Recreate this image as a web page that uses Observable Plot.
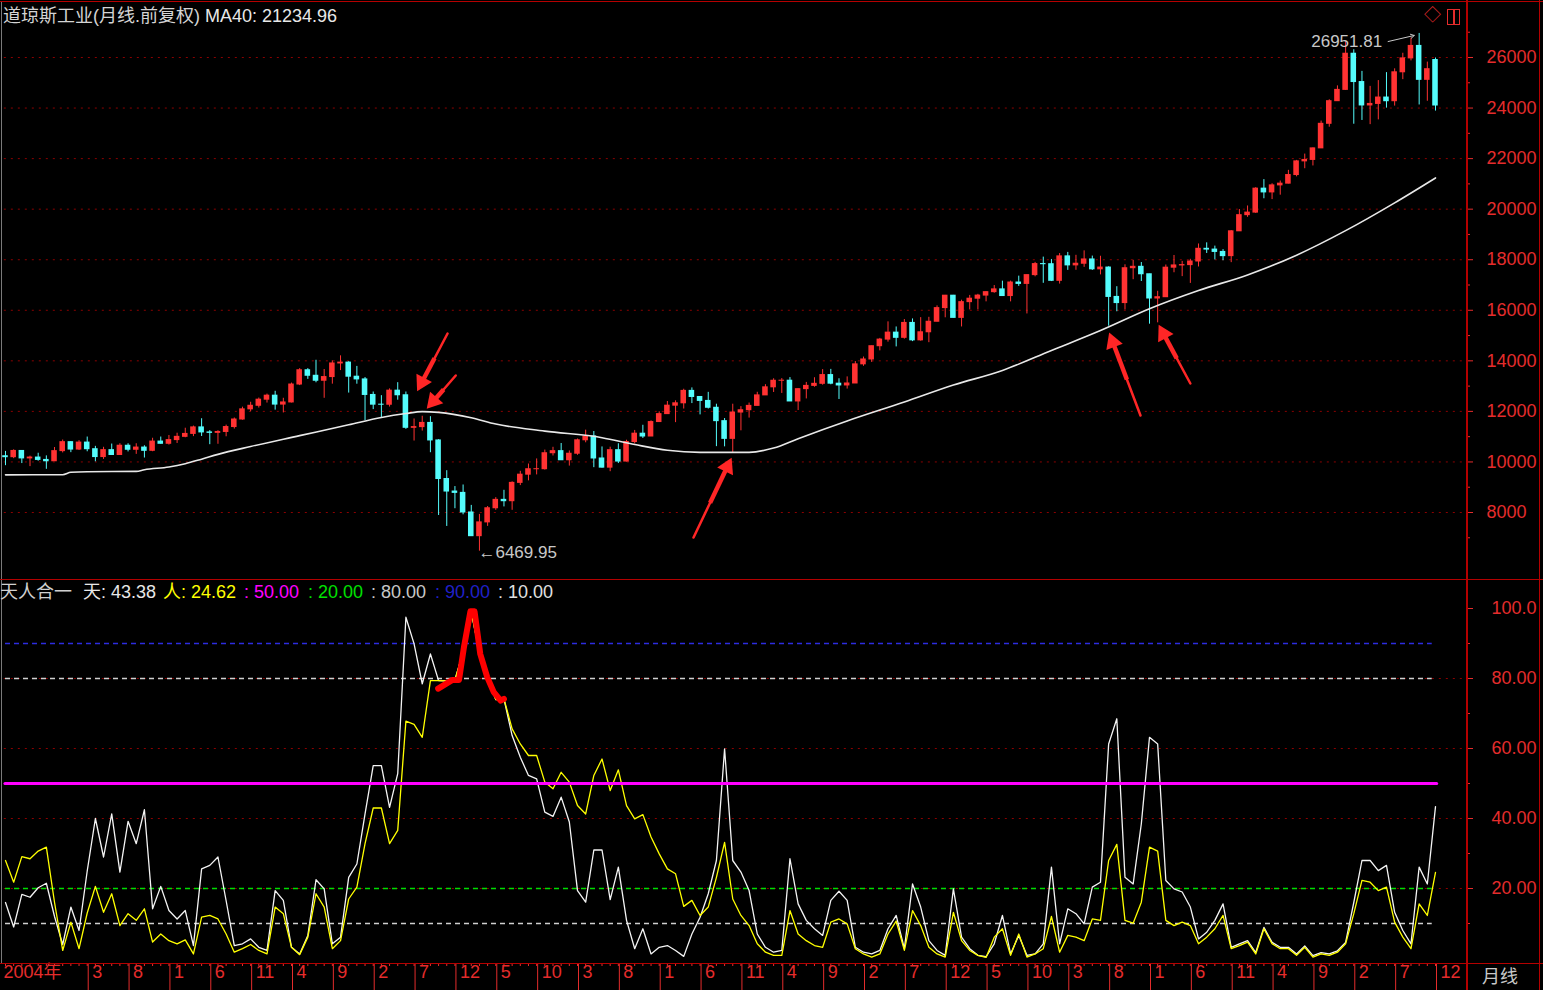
<!DOCTYPE html>
<html><head><meta charset="utf-8">
<script src="https://cdn.jsdelivr.net/npm/d3@7"></script>
<script src="https://cdn.jsdelivr.net/npm/@observablehq/plot@0.6"></script>
<style>
html,body{margin:0;padding:0;background:#000;}
#wrap{position:relative;width:1543px;height:990px;background:#000;overflow:hidden;font-family:"Liberation Sans","Noto Sans CJK SC",sans-serif;}
#wrap svg{position:absolute;left:0;}
.t{position:absolute;font-size:18px;line-height:18px;white-space:pre;}
.ln{position:absolute;background:#b40000;}
</style></head>
<body><div id="wrap"></div>
<script>
// ---------- data: Dow Jones monthly, 2004-05 .. 2018-12 ----------
const startLabel = "2004年";
const open = [10226,10188,10435,10140,10174,10080,10027,10428,
10783,10490,10766,10504,10193,10467,10275,10641,10482,10569,10440,10806,
10718,10865,10993,11109,11367,11168,11150,11186,11381,11679,12081,12222,
12463,12622,12269,12354,13063,13628,13409,13212,13358,13896,13930,13372,
13265,12650,12266,12263,12820,12638,11350,11378,11544,10851,9325,8829,
8776,8001,7063,7609,8168,8500,8447,9172,9496,9712,9713,10345,
10428,10067,10325,10857,11009,10137,9774,10466,10015,10788,11118,11006,
11578,11892,12226,12320,12811,12570,12414,12143,11614,10913,11955,12046,
12218,12633,12952,13212,13214,12393,12880,13009,13091,13437,13096,13026,
13104,13861,14054,14579,14840,15116,14910,15500,14810,15130,15546,16086,
16577,15699,16322,16458,16581,16717,16827,16563,17098,17043,17391,17828,
17823,17165,18133,17776,17841,18011,17620,17690,16528,16285,17664,17720,
17425,16466,16517,17685,17774,17787,17930,18432,18401,18308,18142,19124,
19763,19864,20812,20663,20941,21009,21350,21891,21948,22405,23377,24272,
24719,26149,25029,24103,24163,24416,24271,25415,25965,26458,25116,25900];
const high = [10417,10480,10435,10230,10344,10240,10572,10868,
10800,10842,10985,10617,10580,10708,10720,10719,10720,10640,10937,10985,
11047,11137,11334,11419,11709,11240,11236,11457,11739,12167,12361,12529,
12683,12795,12519,13120,13692,13692,14022,13657,14000,14198,13966,13779,
13339,12767,12622,12891,13136,12767,11700,11808,11790,10882,9654,9026,
9088,8281,7924,8237,8588,8878,9214,9630,9918,10119,10469,10580,
10730,10436,10907,11258,11205,10594,10584,10720,10860,11247,11451,11625,
11983,12391,12419,12876,12929,12570,12753,12284,11717,12284,12188,12330,
12756,13056,13290,13297,13338,12898,13146,13331,13653,13662,13290,13365,
13970,14150,14585,14888,15542,15340,15634,15658,15709,15722,16174,16588,
16588,16398,16588,16631,16735,16978,17152,17154,17350,17395,17894,18103,
18010,18244,18289,18175,18351,18144,18137,17720,16933,17799,17977,17889,
17425,16752,17791,18168,17934,18016,18623,18668,18538,18399,19152,19987,
20126,20851,21169,21006,21113,21536,21929,22179,22420,23485,24328,24877,
26617,26307,25450,24858,25087,25402,25552,26168,26770,26951.81,25818,25980];
const low = [9852,10130,9936,9815,10029,9708,10025,10357,
10368,10452,10403,10007,10100,10270,10267,10397,10300,10156,10405,10704,
10667,10731,10957,11002,11007,10683,10699,10996,11301,11653,11986,12132,
12330,12050,11939,12335,13020,13266,13132,12518,13077,13615,12725,13075,
11634,12071,11731,12172,12442,11288,10827,11221,10365,7882,7449,8149,
7909,7063,6469.95,7450,8086,8221,8087,9065,9252,9487,9678,10236,
10057,9836,10264,10758,9774,9757,9614,9937,9998,10712,10929,11006,
11573,11890,11555,12093,12309,11862,12093,10605,10597,10362,11231,11735,
12218,12630,12748,12710,12391,12035,12492,12956,13036,13053,12471,12883,
13104,13784,13938,14395,14740,14551,14858,14760,14777,14719,15540,15703,
15699,15340,16015,16015,16334,16674,16563,16333,16945,15855,17324,17067,
17136,17037,17579,17582,17698,17576,17400,15370,15942,16013,17210,17139,
15450,15503,16510,17484,17331,17063,17713,18247,17992,17959,17884,19124,
19677,19831,20412,20379,20554,21000,21279,21600,21710,22405,23242,24272,
24700,23360,23509,23344,23532,23997,24077,25124,25866,24122,24268,23881];
const close = [10188,10435,10140,10174,10080,10027,10428,10783,
10490,10766,10504,10193,10467,10275,10641,10482,10569,10440,10806,10718,
10865,10993,11109,11367,11168,11150,11186,11381,11679,12081,12222,12463,
12622,12269,12354,13063,13628,13409,13212,13358,13896,13930,13372,13265,
12650,12266,12263,12820,12638,11350,11378,11544,10851,9325,8829,8776,
8001,7063,7609,8168,8500,8447,9172,9496,9712,9713,10345,10428,
10067,10325,10857,11009,10137,9774,10466,10015,10788,11118,11006,11578,
11892,12226,12320,12811,12570,12414,12143,11614,10913,11955,12046,12218,
12633,12952,13212,13214,12393,12880,13009,13091,13437,13096,13026,13104,
13861,14054,14579,14840,15116,14910,15500,14810,15130,15546,16086,16577,
15699,16322,16458,16581,16717,16827,16563,17098,17043,17391,17828,17823,
17165,18133,17776,17841,18011,17620,17690,16528,16285,17664,17720,17425,
16466,16517,17685,17774,17787,17930,18432,18401,18308,18142,19124,19763,
19864,20812,20663,20941,21009,21350,21891,21948,22405,23377,24272,24719,
26149,25029,24103,24163,24416,24271,25415,25965,26458,25116,25538,24100.51];

// MA40 (month index -> value)
const maIdx = [0,7,8,10,16,17,20,22,24,26,30,36,42,46,49,51,53,57,60,66,73,77,81,85,91,94,97,103,110,116,122,128,134,140,146,152,158,164,170,175];
const maVal = [9490,9495,9590,9615,9625,9690,9800,9930,10110,10300,10610,11040,11470,11760,11915,11990,11960,11750,11500,11220,10960,10690,10460,10380,10380,10550,10920,11620,12370,13040,13620,14410,15200,16060,16780,17400,18180,19150,20250,21234.96];

// indicator 天人合一
const tian = [16,9,18.3,17.5,20.2,21.5,12,4,14.7,8,
25,40,29,41.3,24.7,39.2,32.8,42.5,14.2,20.6,
13.7,11.3,13.7,3.7,25.6,26.6,29,16.5,3.7,4.2,
5.6,3.2,2.3,19.4,16.6,3.2,1.3,6.6,22.5,19.9,
4.2,6.1,23.2,27,41.3,55.1,55.1,43.2,52.8,97.5,
89.9,78.5,87,79.4,79.3,79.6,87.5,99,87.5,80,
74,74.2,63.7,57.5,52.3,51.3,41.8,40.6,46.1,39,
19.4,16.1,31,31,16.8,26.1,10.9,2.8,8.5,1.3,
3.2,3.7,2.3,0.6,7,11.8,18.5,28,59.9,28,
24.7,19.4,7,3.2,1.8,2.3,28.5,15.6,10.9,8.5,
6.6,16.6,19.2,16.6,3.2,1.8,1.3,2.3,8.5,12.3,
2.8,21.3,14.7,5.1,2.3,0.9,19.9,6.1,2.8,0.9,
0.5,4.2,12.3,1.3,6.6,0.9,1.3,4.2,26.1,4.2,
14.2,12.8,9.9,20.4,21.8,61.3,68.5,23.2,21.3,38.5,
63.2,61.3,22.3,19.9,19,14.7,5.6,7.5,10.9,15.6,
3.2,4.2,5.1,1.7,8.9,4.6,3.2,3.2,1.3,3.6,
0.8,1.7,1.3,2.2,4.6,16,28,28,25.1,26.6,
13.2,8,4.2,26.1,21.3,43.38];
const ren = [28,21.8,29.1,28.5,30.7,31.8,16,2.3,10.4,2.8,
13,20.6,13.2,18.5,9.4,12.8,10.9,14.2,4.7,7,
5.1,4.2,5.3,1.3,11.8,12.3,11.3,7,1.8,2.8,
4,2.3,1.3,14.7,12.8,3.2,1.1,6.1,18.5,14.7,
2.8,5.1,17,20.4,32.8,43,43,32.8,36.6,67.8,
66.9,63.2,79.4,79.4,79.3,79.6,87.5,99,87.5,80,
74,74.2,65.6,61.3,58,58,50.4,48.5,53.2,50.4,
43.7,41.3,52.3,57,48,53.9,43.7,39.9,41.1,34.7,
29.9,25.6,24.2,14.9,16.6,12.3,14.7,23.2,33.2,17,
12.3,9.4,4.2,1.8,0.9,0.9,13.7,7,5.1,3.7,
3.2,10.4,11.3,9.9,2.8,1.3,0.4,1.3,7,10.7,
2.3,13.7,9.4,3.2,1.3,0.4,13.2,5.1,2.3,0.9,
0.3,6.1,8.5,0.9,7,0.4,1.3,2.8,12,1.8,
6.6,6.1,5.1,11.3,10.9,28,32.6,10.9,10.1,16.1,
31.8,30.7,10.9,9.4,10.4,9.4,4.2,6.1,8.5,12.3,
2.8,3.7,4.7,1.3,8.5,4.2,2.8,2.8,0.9,3.2,
0.4,1.3,0.9,1.8,4.2,12.8,22.3,21.8,19.4,20.4,
10.4,6.1,2.8,15.6,12.3,24.62];

// hand-drawn red annotation (month index, indicator value)
const redIdx = [52.95,54.7,55.5,56.1,56.9,57.4,58.1,58.95,59.75,60.6,61];
const redVal = [77.1,79.6,79.6,88.9,99.2,99.2,87,80.4,76.1,73.7,74.2];
// red arrows (tail -> head) in month index / price
const arrowX1 = [54.1,55.1,84.2,138.9,145.0];
const arrowY1 = [15081,13419,7011,11837,13103];
const arrowX2 = [50.55,51.8,88.7,135.2,141.3];
const arrowY2 = [12905,12193,10057,15002,15318];

const priceTicks = [8000,10000,12000,14000,16000,18000,20000,22000,24000,26000];
const priceMinor = [7000,9000,11000,13000,15000,17000,19000,21000,23000,25000,27000];
const indTicks = [20,40,60,80,100];
const indMinor = [10,30,50,70,90];
const axisIdx = [0,10,15,20,25,30,35,40,45,50,55,60,65,70,75,80,85,90,95,100,105,110,115,120,125,130,135,140,145,150,155,160,165,170,175];
const axisLabels = [startLabel,"3","8","1","6","11","4","9","2","7","12","5","10","3","8","1","6","11","4","9","2","7","12","5","10","3","8","1","6","11","4","9","2","7","12"];

// ---------- layout ----------
const W = 1543, FRAME_R = 1466, X0 = 5, XLAST = 1435;
const X_MAX = 175 * (FRAME_R - X0) / (XLAST - X0);
const FONT = '"Liberation Sans","Noto Sans CJK SC",sans-serif';
const UP = "#ff3232", DN = "#54fcfc", AX = "#e42c2c", GRID = "#8c0000", ARROW = "#ff2626";
const X_OPT = {domain: [0, X_MAX], range: [X0, FRAME_R]};
const Y_TOP = {domain: [8000, 26000], range: [512, 57]};

const candles = close.map((c, i) => ({i, o: open[i], h: high[i], l: low[i], c}));
const ups = candles.filter(d => d.c >= d.o), dns = candles.filter(d => d.c < d.o);
const BW = 0.34;
const ma = maIdx.map((i, k) => ({i, v: maVal[k]}));

// arrows: shaft + filled triangular head, oriented in screen space
const sx = Plot.scale({x: X_OPT}), sy = Plot.scale({y: Y_TOP});
const arrows = arrowX1.map((x, k) => {
  const px1 = sx.apply(x), py1 = sy.apply(arrowY1[k]);
  const px2 = sx.apply(arrowX2[k]), py2 = sy.apply(arrowY2[k]);
  const dx = px2 - px1, dy = py2 - py1, len = Math.hypot(dx, dy);
  const ux = dx / len, uy = dy / len;
  const cx = px2 - ux * 7, cy = py2 - uy * 7;      // head centroid
  const mx = px1 + dx * 0.45, my = py1 + dy * 0.45;  // taper start
  return {
    x1: x, y1: arrowY1[k],
    xm: sx.invert(mx), ym: sy.invert(my),
    xc: sx.invert(cx), yc: sy.invert(cy),
    rot: Math.atan2(dx, -dy) * 180 / Math.PI
  };
});
const lowK = low.indexOf(Math.min(...low));
const highK = high.indexOf(Math.max(...high));

const topPlot = Plot.plot({
  width: W, height: 579,
  marginLeft: X0, marginRight: W - FRAME_R, marginTop: 0, marginBottom: 0,
  style: {background: "transparent", fontFamily: FONT, overflow: "visible"},
  x: {...X_OPT, axis: null},
  y: Y_TOP,
  marks: [
    Plot.ruleY(priceTicks, {x1: -1, x2: X_MAX, stroke: GRID, strokeDasharray: "2,5"}),
    Plot.axisY({anchor: "right", ticks: priceTicks, tickSize: 6, tickPadding: 14, tickFormat: d => String(d), color: AX, fontSize: 18, label: null}),
    Plot.axisY({anchor: "right", ticks: priceMinor, tickSize: 3, tickFormat: () => "", color: AX, label: null}),
    Plot.ruleX(ups, {x: "i", y1: "l", y2: "h", stroke: UP}),
    Plot.ruleX(dns, {x: "i", y1: "l", y2: "h", stroke: DN}),
    Plot.rect(ups, {x1: d => d.i - BW, x2: d => d.i + BW, y1: "o", y2: "c", fill: UP, insetTop: -0.5, insetBottom: -0.5}),
    Plot.rect(dns, {x1: d => d.i - BW, x2: d => d.i + BW, y1: "o", y2: "c", fill: DN, insetTop: -0.5, insetBottom: -0.5}),
    Plot.line(ma, {x: "i", y: "v", stroke: "#e8e8e8", strokeWidth: 1.6, curve: "monotone-x"}),
    Plot.link(arrows, {x1: "x1", y1: "y1", x2: "xc", y2: "yc", stroke: ARROW, strokeWidth: 2.5, strokeLinecap: "round"}),
    Plot.link(arrows, {x1: "xm", y1: "ym", x2: "xc", y2: "yc", stroke: ARROW, strokeWidth: 4.5}),
    Plot.dot(arrows, {x: "xc", y: "yc", symbol: "triangle", r: 6.5, fill: ARROW, stroke: "none", rotate: "rot"}),
    Plot.text([{i: lowK, v: low[lowK]}], {x: "i", y: "v", text: d => "←" + d.v.toFixed(2), textAnchor: "start", dx: -1, dy: 1, fill: "#c8c8c8", fontSize: 17}),
    Plot.text([{i: highK, v: high[highK]}], {x: "i", y: "v", text: d => d.v.toFixed(2), textAnchor: "end", dx: -37, dy: 8, fill: "#c8c8c8", fontSize: 17}),
    Plot.arrow([{i: highK, v: high[highK]}], {x1: d => d.i - 3.8, y1: d => d.v - 320, x2: d => d.i - 0.6, y2: d => d.v - 80, stroke: "#c8c8c8", strokeWidth: 1, headLength: 6})
  ]
});
topPlot.style.top = "0px";

const idxAll = tian.map((_, i) => i);
const series = idxAll.map(i => ({i, t: tian[i], r: ren[i]}));
const red = redIdx.map((i, k) => ({i, v: redVal[k]}));

const lowPlot = Plot.plot({
  width: W, height: 410,
  marginLeft: X0, marginRight: W - FRAME_R, marginTop: 0, marginBottom: 27,
  style: {background: "transparent", fontFamily: FONT, overflow: "visible"},
  x: X_OPT,
  y: {domain: [0, 100], range: [378, 28]},
  marks: [
    Plot.ruleY([20, 40, 60, 80], {x1: -1, x2: X_MAX, stroke: GRID, strokeDasharray: "2,5"}),
    Plot.axisY({anchor: "right", ticks: indTicks, tickSize: 6, tickPadding: 19, tickFormat: d => d === 100 ? "100.0" : d.toFixed(2), color: AX, fontSize: 18, label: null}),
    Plot.axisY({anchor: "right", ticks: indMinor, tickSize: 3, tickFormat: () => "", color: AX, label: null}),
    Plot.ruleY([90], {x1: 0, x2: 174.6, stroke: "#2c2ce0", strokeWidth: 1.3, strokeDasharray: "5,4"}),
    Plot.ruleY([80, 10], {x1: 0, x2: 174.6, stroke: "#d0d0d0", strokeWidth: 1.3, strokeDasharray: "5,4"}),
    Plot.ruleY([20], {x1: 0, x2: 174.6, stroke: "#00dc00", strokeWidth: 1.3, strokeDasharray: "5,4"}),
    Plot.line(series, {x: "i", y: "t", stroke: "#f4f4f4", strokeWidth: 1.3}),
    Plot.line(series, {x: "i", y: "r", stroke: "#ffff00", strokeWidth: 1.3}),
    Plot.ruleY([50], {x1: 0, x2: 175.2, stroke: "#ff00ff", strokeWidth: 3.2, strokeLinecap: "round"}),
    Plot.line(red, {x: "i", y: "v", stroke: "#ff0000", strokeWidth: 6, strokeLinecap: "round", strokeLinejoin: "round"}),
    Plot.axisX({anchor: "bottom", ticks: idxAll, tickSize: 3, tickFormat: () => "", color: AX, label: null}),
    Plot.axisX({anchor: "bottom", ticks: axisIdx.slice(1), tickSize: 27, tickFormat: () => "", color: AX, label: null, dx: 1}),
    Plot.text(axisLabels.slice(0, 1), {x: axisIdx.slice(0, 1), text: d => d, frameAnchor: "bottom", dy: 14, dx: -2, textAnchor: "start", fill: AX, fontSize: 18}),
    Plot.text(axisLabels.slice(1), {x: axisIdx.slice(1), text: d => d, frameAnchor: "bottom", dy: 14, dx: 5, textAnchor: "start", fill: AX, fontSize: 18})
  ]
});
lowPlot.style.top = "580px";

const wrap = document.getElementById("wrap");
wrap.appendChild(topPlot);
wrap.appendChild(lowPlot);

function line(l, t, w, h, c) {
  const d = document.createElement("div");
  d.className = "ln";
  d.style.cssText = `left:${l}px;top:${t}px;width:${w}px;height:${h}px;` + (c ? `background:${c};` : "");
  wrap.appendChild(d);
}
line(0, 1, W, 1);
line(1, 2, 1, 961, "#7a7a7a");
line(0, 579, W, 1);
line(0, 963, W, 1);
line(FRAME_R, 0, 2, 990);
line(1539, 0, 1, 990);

function text(l, t, s, c, extra) {
  const d = document.createElement("div");
  d.className = "t";
  d.style.cssText = `left:${l}px;top:${t}px;color:${c};` + (extra || "");
  d.textContent = s;
  wrap.appendChild(d);
}
text(3, 7, "道琼斯工业(月线.前复权)", "#d4d4d4");
text(205, 7, "MA40: " + maVal[maVal.length - 1].toFixed(2), "#e8e8e8");
text(1424, 7, "◇", AX, "font-size:17px;");
const box = document.createElement("div");
box.style.cssText = `position:absolute;left:1447px;top:9px;width:11px;height:14px;border:1.5px solid ${AX};`;
const inner = document.createElement("div");
inner.style.cssText = `position:absolute;left:5px;top:0;width:1.5px;height:14px;background:${AX};`;
box.appendChild(inner);
wrap.appendChild(box);

const hdrY = 583;
text(0, hdrY, "天人合一", "#d0d0d0");
text(83, hdrY, "天: " + tian[tian.length - 1].toFixed(2), "#e8e8e8");
text(163, hdrY, "人: " + ren[ren.length - 1].toFixed(2), "#ffff00");
text(244, hdrY, ": 50.00", "#ff00ff");
text(308, hdrY, ": 20.00", "#00e000");
text(371, hdrY, ": 80.00", "#c8c8c8");
text(435, hdrY, ": 90.00", "#2020c8");
text(498, hdrY, ": 10.00", "#e0e0e0");
text(1482, 968, "月线", "#c8c8c8");
</script>
</body></html>
